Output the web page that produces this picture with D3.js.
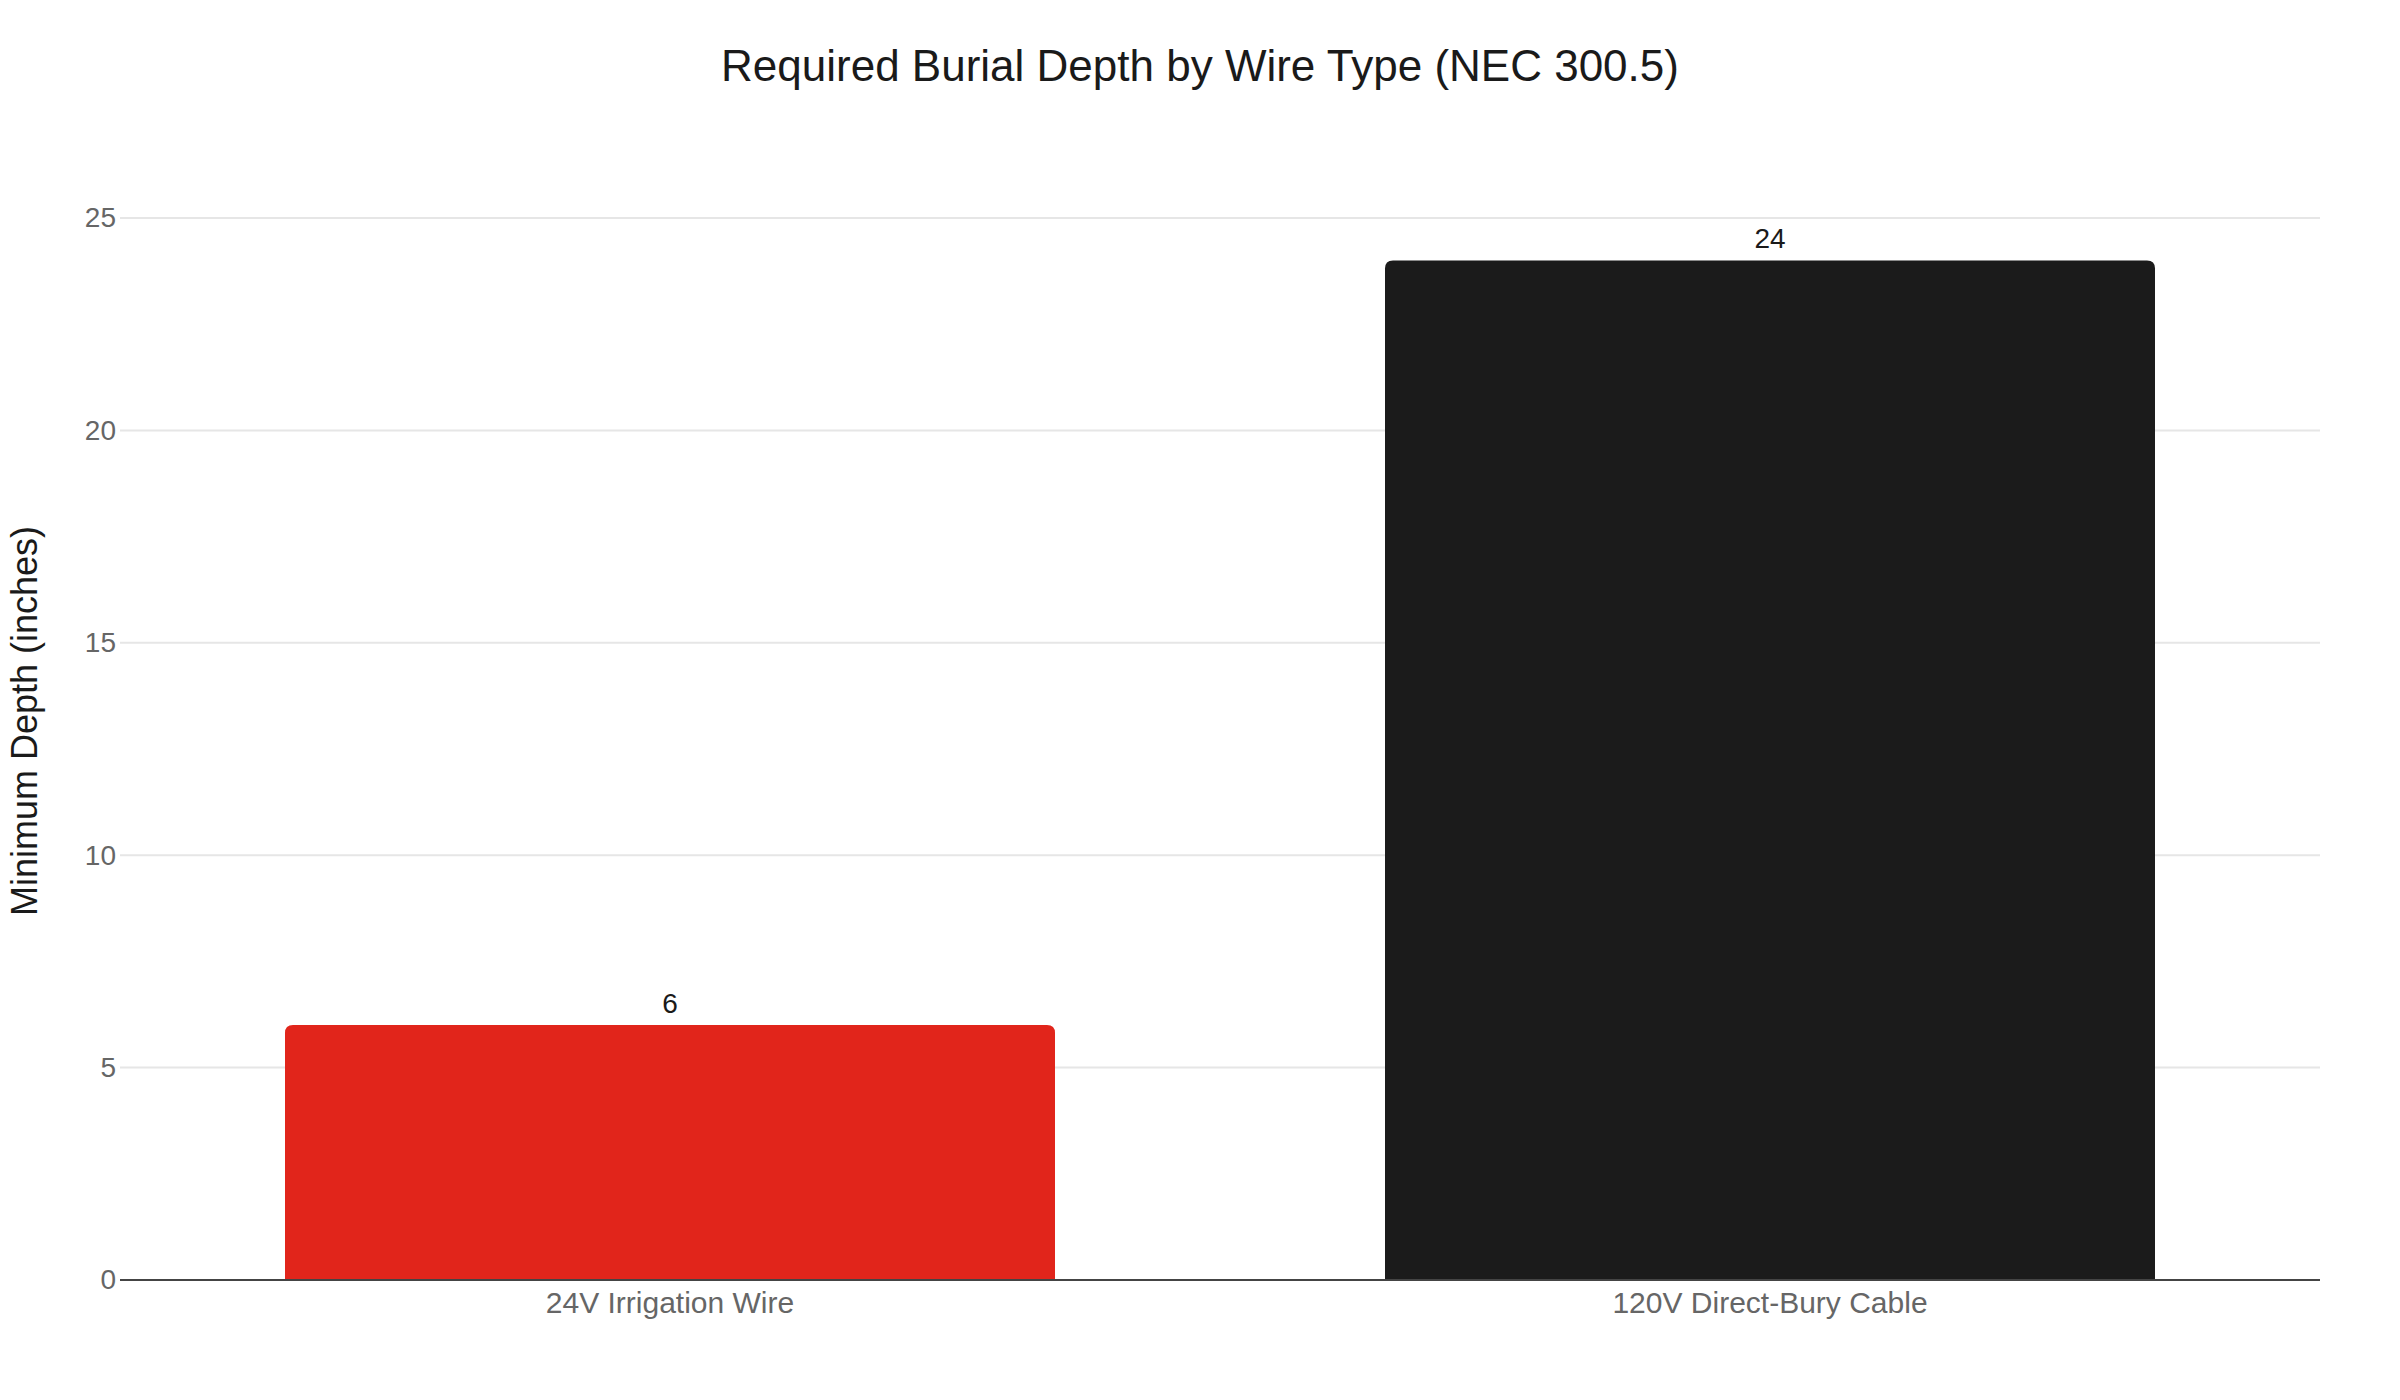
<!DOCTYPE html>
<html>
<head>
<meta charset="utf-8">
<script src="https://cdn.jsdelivr.net/npm/d3@7"></script>
<style>
  html, body { margin: 0; padding: 0; background: #fff; }
  svg { display: block; font-family: "Liberation Sans", Arial, Helvetica, sans-serif; }
</style>
</head>
<body>
<div class="svg-container"></div>
<script>
var categories = ["24V Irrigation Wire", "120V Direct-Bury Cable"];
var depths = [6, 24];
var barColors = ["#e1251b", "#1b1b1b"];
var yTicks = [0, 5, 10, 15, 20, 25];

var width = 2400, height = 1400;
var margin = {top: 218, right: 80, bottom: 120, left: 120};

var svg = d3.select(".svg-container").append("svg")
  .attr("width", width).attr("height", height);

var x = d3.scaleBand()
  .domain(categories)
  .range([margin.left, width - margin.right])
  .paddingInner(0.3).paddingOuter(0.15);

var y = d3.scaleLinear()
  .domain([0, 25])
  .range([height - margin.bottom, margin.top]);

// gridlines
svg.append("g")
  .selectAll("line")
  .data(yTicks.filter(d => d > 0))
  .join("line")
  .attr("x1", margin.left).attr("x2", width - margin.right)
  .attr("y1", d => y(d)).attr("y2", d => y(d))
  .attr("stroke", "#e6e6e6").attr("stroke-width", 2);

// bars with rounded top corners
var r = 8;
var barPath = (d, i) => {
  var x0 = x(categories[i]), x1 = x0 + x.bandwidth();
  var y0 = y(0), y1 = y(d);
  return "M" + x0 + "," + y0 +
    "V" + (y1 + r) +
    "Q" + x0 + "," + y1 + " " + (x0 + r) + "," + y1 +
    "H" + (x1 - r) +
    "Q" + x1 + "," + y1 + " " + x1 + "," + (y1 + r) +
    "V" + y0 + "Z";
};

svg.append("g")
  .selectAll("path")
  .data(depths)
  .join("path")
  .attr("d", barPath)
  .attr("fill", (d, i) => barColors[i]);

// value labels
svg.append("g")
  .selectAll("text")
  .data(depths)
  .join("text")
  .attr("x", (d, i) => x(categories[i]) + x.bandwidth() / 2)
  .attr("y", d => y(d) - 12)
  .attr("text-anchor", "middle")
  .attr("font-size", 28)
  .attr("fill", "#1a1a1a")
  .text(d => d);

// y axis
var yAxis = svg.append("g")
  .attr("transform", "translate(" + margin.left + ",0)")
  .call(d3.axisLeft(y).tickValues(yTicks).tickSize(0).tickPadding(4));
yAxis.select(".domain").remove();
yAxis.selectAll("text")
  .attr("font-size", 28).attr("fill", "#666")
  .attr("font-family", "Liberation Sans, Arial, sans-serif");

// x axis
var xAxis = svg.append("g")
  .attr("transform", "translate(0," + y(0) + ")")
  .call(d3.axisBottom(x).tickSize(0).tickPadding(12));
xAxis.select(".domain")
  .attr("d", "M" + margin.left + ",0H" + (width - margin.right))
  .attr("stroke", "#444").attr("stroke-width", 2);
xAxis.selectAll("text")
  .attr("font-size", 30).attr("fill", "#666")
  .attr("font-family", "Liberation Sans, Arial, sans-serif");

// title
svg.append("text")
  .attr("x", width / 2).attr("y", 81)
  .attr("text-anchor", "middle")
  .attr("font-size", 44)
  .attr("fill", "#1a1a1a")
  .text("Required Burial Depth by Wire Type (NEC 300.5)");

// y axis title
svg.append("text")
  .attr("transform", "translate(37," + ((margin.top + y(0)) / 2 - 28) + ") rotate(-90)")
  .attr("text-anchor", "middle")
  .attr("font-size", 36)
  .attr("fill", "#1a1a1a")
  .text("Minimum Depth (inches)");
</script>
</body>
</html>
